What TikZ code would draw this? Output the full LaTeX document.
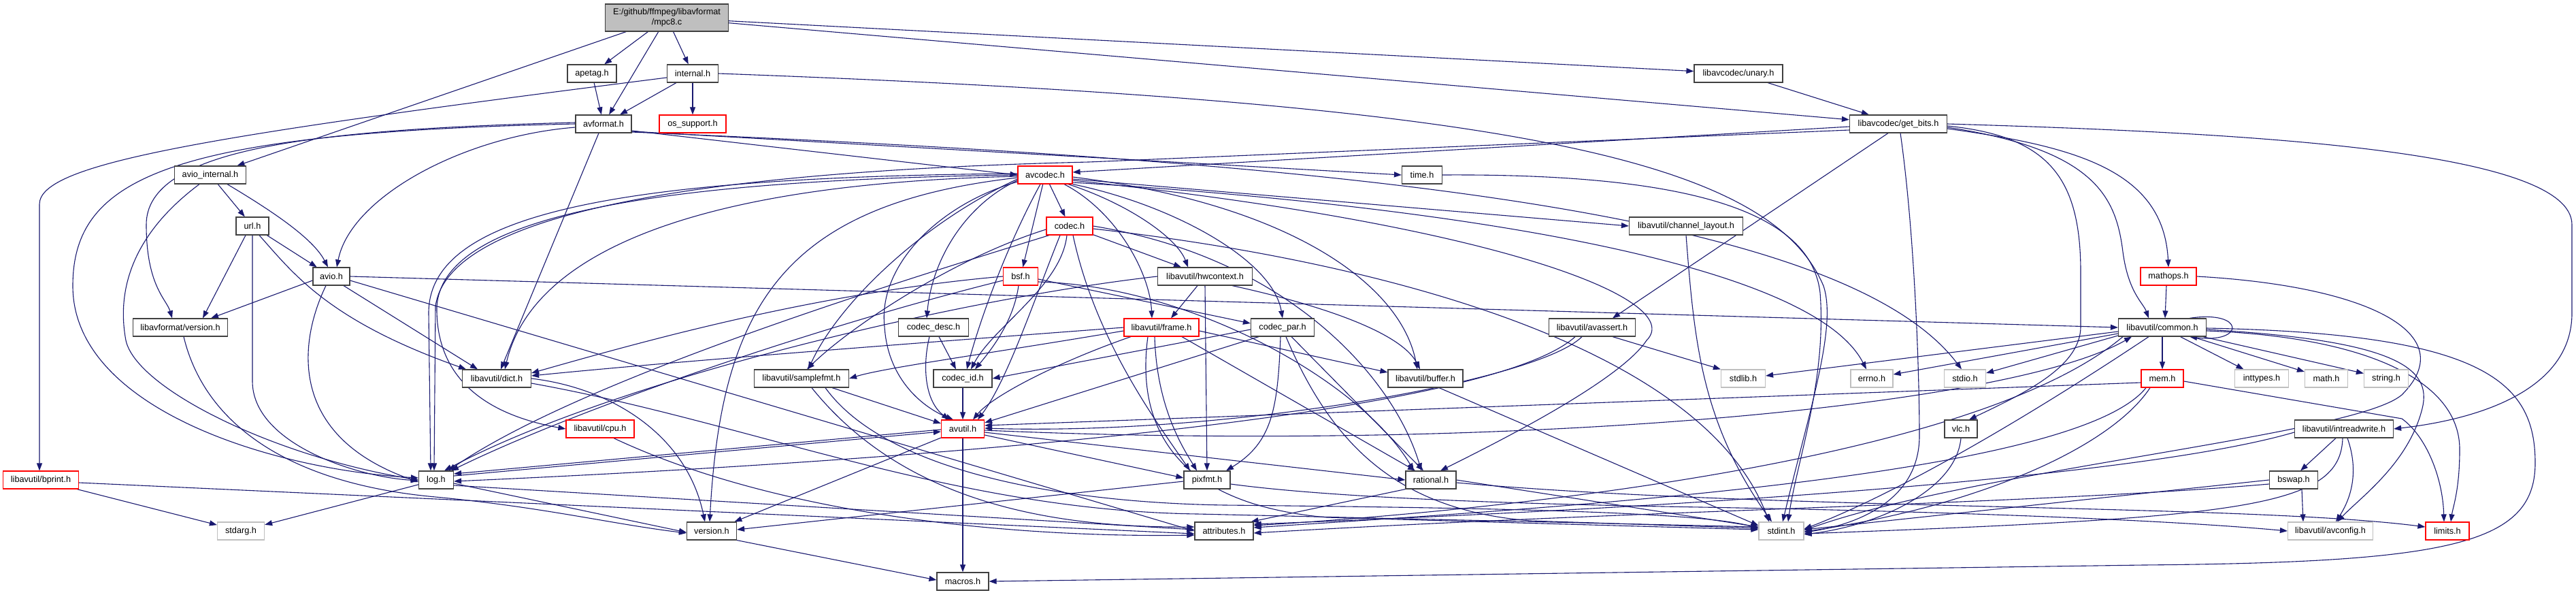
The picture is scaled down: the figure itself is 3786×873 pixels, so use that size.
\documentclass[tikz,border=0pt]{standalone}
\usepackage{fontspec}
\setmainfont{Liberation Sans}
\usetikzlibrary{arrows.meta}
\definecolor{edgec}{HTML}{191970}
\definecolor{grayb}{HTML}{BFBFBF}
\pgfdeclarelayer{back}
\pgfdeclarelayer{edges}
\pgfsetlayers{back,edges,main}
\begin{document}
\begin{tikzpicture}[x=1pt,y=-1pt,
 nd/.style={draw=black!75,line width=1.2pt,fill=white,minimum height=26pt,inner sep=0pt,font=\fontsize{12.7}{15}\selectfont},
 rd/.style={nd,draw=red},
 gy/.style={nd,draw=grayb},
 edg/.style={draw=edgec,line width=1.1pt,-{Triangle[length=11pt,width=8pt]}}]
\begin{pgfonlayer}{back}
\fill[white] (0,0) rectangle (3786,873);
\end{pgfonlayer}
\useasboundingbox (0,0) rectangle (3786,873);
% nodes
\node[nd,fill=grayb,minimum width=181pt,minimum height=40pt,align=center] (mpc) at (980,26) {E:/github/ffmpeg/libavformat\\/mpc8.c};
\node[nd,minimum width=72pt] (apetag) at (870,108) {apetag.h};
\node[nd,minimum width=75pt] (internal) at (1018,108) {internal.h};
\node[nd,minimum width=130pt] (unary) at (2555,108) {libavcodec/unary.h};
\node[nd,minimum width=82pt] (avformat) at (887,182) {avformat.h};
\node[rd,minimum width=98pt] (ossupport) at (1018,182) {os\_support.h};
\node[nd,minimum width=143pt] (getbits) at (2790,182) {libavcodec/get\_bits.h};
\node[nd,minimum width=105pt] (aviointernal) at (309,257) {avio\_internal.h};
\node[rd,minimum width=80pt] (avcodec) at (1536,257) {avcodec.h};
\node[nd,minimum width=59pt] (timeh) at (2090,257) {time.h};
\node[nd,minimum width=48pt] (url) at (371,332) {url.h};
\node[rd,minimum width=68pt] (codec) at (1572,332) {codec.h};
\node[nd,minimum width=167pt] (chlayout) at (2478,332) {libavutil/channel\_layout.h};
\node[nd,minimum width=54pt] (avio) at (487,406) {avio.h};
\node[rd,minimum width=51pt] (bsf) at (1500,406) {bsf.h};
\node[nd,minimum width=139pt] (hwcontext) at (1771,406) {libavutil/hwcontext.h};
\node[rd,minimum width=82pt] (mathops) at (3187,406) {mathops.h};
\node[nd,minimum width=139pt] (lavfversion) at (265,481) {libavformat/version.h};
\node[nd,minimum width=103pt] (codecdesc) at (1372,481) {codec\_desc.h};
\node[rd,minimum width=110pt] (frame) at (1707,481) {libavutil/frame.h};
\node[nd,minimum width=93pt] (codecpar) at (1885,481) {codec\_par.h};
\node[nd,minimum width=127pt] (avassert) at (2340,481) {libavutil/avassert.h};
\node[nd,minimum width=129pt] (common) at (3178,481) {libavutil/common.h};
\node[nd,minimum width=101pt] (dict) at (730,556) {libavutil/dict.h};
\node[nd,minimum width=139pt] (samplefmt) at (1178,556) {libavutil/samplefmt.h};
\node[nd,minimum width=86pt] (codecid) at (1415,556) {codec\_id.h};
\node[nd,minimum width=110pt] (buffer) at (2095,556) {libavutil/buffer.h};
\node[gy,minimum width=65pt] (stdlib) at (2562,556) {stdlib.h};
\node[gy,minimum width=62pt] (errno) at (2751,556) {errno.h};
\node[gy,minimum width=61pt] (stdio) at (2888,556) {stdio.h};
\node[rd,minimum width=62pt] (mem) at (3178,556) {mem.h};
\node[gy,minimum width=79pt] (inttypes) at (3324,556) {inttypes.h};
\node[gy,minimum width=63pt] (math) at (3419,556) {math.h};
\node[gy,minimum width=65pt] (string) at (3507,556) {string.h};
\node[rd,minimum width=100pt] (cpu) at (882,630) {libavutil/cpu.h};
\node[rd,minimum width=63pt] (avutil) at (1415,630) {avutil.h};
\node[nd,minimum width=48pt] (vlc) at (2882,630) {vlc.h};
\node[nd,minimum width=145pt] (intreadwrite) at (3445,630) {libavutil/intreadwrite.h};
\node[rd,minimum width=111pt] (bprint) at (60,705) {libavutil/bprint.h};
\node[nd,minimum width=51pt] (log) at (641,705) {log.h};
\node[nd,minimum width=68pt] (pixfmt) at (1774,705) {pixfmt.h};
\node[nd,minimum width=74pt] (rational) at (2103,705) {rational.h};
\node[nd,minimum width=71pt] (bswap) at (3371,705) {bswap.h};
\node[gy,minimum width=69pt] (stdarg) at (354,780) {stdarg.h};
\node[nd,minimum width=73pt] (version) at (1046,780) {version.h};
\node[nd,minimum width=86pt] (attributes) at (1799,780) {attributes.h};
\node[gy,minimum width=66pt] (stdint) at (2618,780) {stdint.h};
\node[gy,minimum width=125pt] (avconfig) at (3425,780) {libavutil/avconfig.h};
\node[rd,minimum width=64pt] (limits) at (3597,780) {limits.h};
\node[nd,minimum width=76pt] (macros) at (1415,854) {macros.h};
% edges
\begin{pgfonlayer}{edges}
% mpc8.c
\draw[edg] (mpc) -- (aviointernal);
\draw[edg] (mpc) -- (apetag);
\draw[edg] (mpc) -- (avformat);
\draw[edg] (mpc) -- (internal);
\draw[edg] (mpc) -- (unary);
\draw[edg] (mpc) -- (getbits);
\draw[edg] (apetag) -- (avformat);
\draw[edg] (internal) -- (avformat);
\draw[edg] (internal) -- (ossupport);
\draw[edg] ([yshift=-6pt]internal.west) .. controls (300,200) and (58,240) .. (58,300) -- ([xshift=-2pt]bprint.north);
\draw[edg] (internal.east) .. controls (2200,150) and (2600,230) .. (2680,420) .. controls (2700,480) and (2660,600) .. ([xshift=2pt]stdint.north);
\draw[edg] (unary) -- (getbits);
% avformat.h
\draw[edg] ([yshift=-10pt]avformat.east) -- (avcodec.west);
\draw[edg] ([yshift=-11pt]avformat.east) -- (timeh.west);
\draw[edg] ([yshift=-12pt]avformat.east) .. controls (1900,235) and (2700,300) .. ([xshift=-5pt]stdio.north);
\draw[edg] ([yshift=-5pt]avformat.west) .. controls (680,200) and (515,290) .. ([xshift=8pt]avio.north);
\draw[edg] ([yshift=2pt]avformat.west) .. controls (450,190) and (215,220) .. (215,330) .. controls (215,420) and (245,440) .. ([xshift=-12pt]lavfversion.north);
\draw[edg] (avformat.west) .. controls (250,195) and (107,260) .. (107,420) .. controls (107,600) and (400,690) .. ([yshift=3pt]log.west);
\draw[edg] ([xshift=-7pt]avformat.south) -- ([xshift=6pt]dict.north);
% avio_internal.h
\draw[edg] (aviointernal) -- (url);
\draw[edg] ([xshift=25pt]aviointernal.south) .. controls (400,310) and (460,350) .. ([xshift=-5pt]avio.north);
\draw[edg] ([xshift=-16pt]aviointernal.south) .. controls (200,340) and (170,420) .. (185,500) .. controls (200,570) and (400,670) .. (log.west);
% url.h
\draw[edg] (url) -- (avio);
\draw[edg] ([xshift=-10pt]url.south) -- ([xshift=33pt]lavfversion.north);
\draw[edg] (url.south) -- (371,560) .. controls (371,650) and (520,700) .. ([yshift=-1pt]log.west);
\draw[edg] ([xshift=10pt]url.south) .. controls (430,400) and (480,470) .. ([xshift=-45pt]dict.north);
% avio.h
\draw[edg] (avio.east) -- (common.west);
\draw[edg] ([yshift=-6pt]avio.west) -- ([xshift=45pt]lavfversion.north);
\draw[edg] ([xshift=-8pt]avio.south) .. controls (440,500) and (420,640) .. ([yshift=-3pt]log.west);
\draw[edg] ([xshift=18pt]avio.south) -- ([xshift=-28pt]dict.north);
\draw[edg] ([yshift=-6pt]avio.east) -- (attributes.west);
% libavformat/version.h
\draw[edg] ([xshift=5pt]lavfversion.south) .. controls (300,620) and (420,710) .. (640,730) .. controls (800,745) and (900,770) .. ([yshift=-3pt]version.west);
% bprint.h
\draw[edg] (bprint) -- (stdarg);
\draw[edg] ([yshift=-4pt]bprint.east) -- ([yshift=-4pt]attributes.west);
% log.h
\draw[edg] (log) -- (stdarg);
\draw[edg] ([yshift=-5pt]log.east) -- ([yshift=-2pt]version.west);
\draw[edg] ([yshift=6pt]log.east) -- ([yshift=-4pt]avutil.west);
\draw[edg] ([yshift=-1pt]avutil.west) -- ([yshift=9pt]log.east);
\draw[edg] ([yshift=-8pt]log.east) -- ([yshift=2pt]attributes.west);
% dict.h
\draw[edg] (dict.east) .. controls (900,570) and (1010,640) .. ([xshift=-10pt]version.north);
\draw[edg] ([yshift=-7pt]dict.east) .. controls (1100,620) and (1400,750) .. (1760,755) -- ([yshift=6pt]stdint.west);
% cpu.h
\draw[edg] ([xshift=20pt]cpu.south) .. controls (1150,760) and (1500,790) .. ([yshift=-6pt]attributes.west);
% avutil.h
\draw[edg] (avutil) -- (macros);
\draw[edg] (avutil) -- (version);
\draw[edg] ([yshift=-5pt]avutil.east) -- (rational.west);
\draw[edg] ([yshift=-9pt]avutil.east) -- ([yshift=3pt]pixfmt.west);
\draw[edg] ([yshift=-2pt]avutil.east) .. controls (2200,665) and (2950,600) .. ([xshift=-45pt]common.south);
% codec_id / codec_desc / codec_par
\draw[edg] (codecid) -- (avutil);
\draw[edg] ([xshift=8pt]codecdesc.south) -- ([xshift=-10pt]codecid.north);
\draw[edg] ([xshift=-6pt]codecdesc.south) .. controls (1355,540) and (1360,590) .. ([xshift=-20pt]avutil.north);
\draw[edg] ([yshift=-3pt]codecpar.west) -- (codecid.east);
\draw[edg] ([xshift=-35pt]codecpar.south) -- ([yshift=9pt]avutil.east);
\draw[edg] ([xshift=-3pt]codecpar.south) .. controls (1878,600) and (1870,650) .. ([xshift=28pt]pixfmt.north);
\draw[edg] ([xshift=13pt]codecpar.south) -- ([xshift=-11pt]rational.north);
\draw[edg] ([xshift=5pt]codecpar.south) .. controls (1960,660) and (2060,750) .. (2250,765) -- ([yshift=4pt]stdint.west);
% frame.h
\draw[edg] ([xshift=-45pt]frame.south) .. controls (1560,530) and (1460,580) .. ([xshift=15pt]avutil.north);
\draw[edg] (frame.west) .. controls (1400,500) and (1000,530) .. ([yshift=4pt]dict.east);
\draw[edg] ([yshift=-5pt]frame.west) .. controls (1450,520) and (1300,540) .. (samplefmt.east);
\draw[edg] ([xshift=-10pt]frame.south) .. controls (1700,600) and (1740,660) .. ([xshift=-15pt]pixfmt.north);
\draw[edg] ([yshift=-5pt]frame.east) -- ([yshift=9pt]buffer.west);
\draw[edg] ([xshift=30pt]frame.south) -- ([xshift=-23pt]rational.north);
\draw[edg] ([xshift=-20pt]frame.south) .. controls (1670,620) and (1720,740) .. (1950,760) -- ([yshift=2pt]stdint.west);
% hwcontext.h
\draw[edg] ([xshift=-11pt]hwcontext.south) -- ([xshift=14pt]frame.north);
\draw[edg] (hwcontext.south) -- (pixfmt.north);
\draw[edg] ([xshift=40pt]hwcontext.south) .. controls (1950,450) and (2060,490) .. ([xshift=-8pt]buffer.north);
\draw[edg] (hwcontext.west) .. controls (1400,440) and (900,560) .. ([xshift=12pt]log.north);
% codec.h
\draw[edg] (codec) -- ([xshift=-35pt]hwcontext.north);
\draw[edg] ([xshift=-4pt]codec.south) .. controls (1560,420) and (1460,480) .. ([xshift=12pt]codecid.north);
\draw[edg] ([xshift=-14pt]codec.south) .. controls (1520,440) and (1480,560) .. ([xshift=22pt]avutil.north);
\draw[edg] ([xshift=-30pt]codec.south) .. controls (1300,420) and (850,560) .. ([xshift=18pt]log.north);
\draw[edg] ([xshift=5pt]codec.south) .. controls (1610,500) and (1700,620) .. ([xshift=-25pt]pixfmt.north);
\draw[edg] (codec.east) .. controls (1900,380) and (2050,560) .. ([xshift=-14pt]rational.north);
\draw[edg] ([yshift=-5pt]codec.west) .. controls (1400,380) and (1250,480) .. ([xshift=8pt]samplefmt.north);
\draw[edg] ([yshift=-4pt]codec.east) .. controls (2000,380) and (2500,500) .. ([xshift=-18pt]stdint.north);
% bsf.h
\draw[edg] (bsf.west) .. controls (1200,430) and (950,500) .. ([yshift=8pt]dict.east);
\draw[edg] ([yshift=-6pt]bsf.west) .. controls (1200,480) and (850,600) .. ([xshift=22pt]log.north);
\draw[edg] ([xshift=-3pt]bsf.south) .. controls (1490,470) and (1460,510) .. ([xshift=18pt]codecid.north);
\draw[edg] ([yshift=-4pt]bsf.east) -- ([yshift=6pt]codecpar.west);
\draw[edg] ([yshift=-8pt]bsf.east) .. controls (1750,420) and (2000,560) .. ([xshift=-25pt]rational.north);
% avcodec.h
\draw[edg] (avcodec) -- (bsf);
\draw[edg] (avcodec) -- (codec);
\draw[edg] ([yshift=-6pt]avcodec.east) -- (chlayout.west);
\draw[edg] ([yshift=-11pt]avcodec.east) .. controls (2100,300) and (2660,380) .. ([xshift=-8pt]errno.north);
\draw[edg] ([yshift=-8pt]avcodec.east) .. controls (2200,330) and (2480,440) .. (2420,500) .. controls (2380,560) and (2200,650) .. ([xshift=14pt]rational.north);
\draw[edg] ([yshift=-3pt]avcodec.east) .. controls (1900,300) and (2060,420) .. ([xshift=-12pt]buffer.north);
\draw[edg] (avcodec.south east) .. controls (1720,300) and (1870,380) .. (codecpar.north);
\draw[edg] ([xshift=34pt]avcodec.south) .. controls (1660,300) and (1730,350) .. ([xshift=-25pt]hwcontext.north);
\draw[edg] ([xshift=28pt]avcodec.south) .. controls (1640,310) and (1690,400) .. ([xshift=-14pt]frame.north);
\draw[edg] ([xshift=-7pt]avcodec.south) .. controls (1480,360) and (1440,470) .. ([xshift=6pt]codecid.north);
\draw[edg] ([yshift=-8pt]avcodec.west) .. controls (1420,300) and (1370,380) .. ([xshift=-10pt]codecdesc.north);
\draw[edg] ([yshift=-10pt]avcodec.west) .. controls (1380,300) and (1290,390) .. (1300,480) .. controls (1305,560) and (1360,600) .. ([xshift=-14pt]avutil.north);
\draw[edg] ([yshift=-6pt]avcodec.west) .. controls (1350,330) and (1230,450) .. ([xshift=10pt]samplefmt.north);
\draw[edg] ([yshift=-4pt]avcodec.west) .. controls (1150,300) and (1060,450) .. ([xshift=-3pt]version.north);
\draw[edg] ([yshift=-2pt]avcodec.west) .. controls (1000,270) and (780,380) .. ([xshift=12pt]dict.north);
\draw[edg] (avcodec.west) .. controls (900,265) and (650,330) .. (642,450) .. controls (640,560) and (720,610) .. (cpu.west);
\draw[edg] ([yshift=2pt]avcodec.west) .. controls (880,260) and (630,320) .. (630,460) -- ([xshift=-8pt]log.north);
% get_bits.h
\draw[edg] ([yshift=-4pt]getbits.west) -- ([yshift=4pt]avcodec.east);
\draw[edg] ([yshift=-9pt]getbits.west) -- (1600,238) .. controls (1100,250) and (660,300) .. (640,450) -- ([xshift=-3pt]log.north);
\draw[edg] ([xshift=-15pt]getbits.south) -- ([xshift=30pt]avassert.north);
\draw[edg] ([xshift=3pt]getbits.south) .. controls (2815,350) and (2821,560) .. (2821,640) .. controls (2821,740) and (2720,772) .. ([yshift=-2pt]stdint.east);
\draw[edg] ([yshift=-3pt]getbits.east) .. controls (3010,200) and (3058,260) .. (3058,400) -- (3058,480) .. controls (3058,540) and (2970,580) .. ([xshift=12pt]vlc.north);
\draw[edg] ([yshift=-5pt]getbits.east) .. controls (3080,220) and (3110,290) .. (3120,370) .. controls (3128,430) and (3150,445) .. ([xshift=-20pt]common.north);
\draw[edg] ([yshift=-7pt]getbits.east) .. controls (3050,215) and (3180,250) .. (mathops.north);
\draw[edg] (getbits.east) .. controls (3300,195) and (3780,220) .. (3780,330) -- (3780,460) .. controls (3780,570) and (3650,615) .. (intreadwrite.east);
% mathops.h
\draw[edg] ([xshift=-3pt]mathops.south) -- ([xshift=4pt]common.north);
\draw[edg] (mathops.east) .. controls (3480,420) and (3620,490) .. (3530,580) .. controls (3460,640) and (2900,690) .. ([yshift=1pt]stdint.east);
% mem.h
\draw[edg] ([yshift=-6pt]mem.west) -- ([yshift=5pt]avutil.east);
\draw[edg] ([yshift=-4pt]mem.east) -- (3530,615) .. controls (3565,640) and (3590,700) .. ([xshift=-5pt]limits.north);
\draw[edg] ([xshift=-18pt]mem.south) .. controls (3100,660) and (2900,745) .. ([yshift=-1pt]stdint.east);
\draw[edg] ([xshift=-24pt]mem.south) .. controls (3050,700) and (2300,745) .. ([yshift=5pt]attributes.east);
% common.h
\draw[edg] (common) -- (mem);
\draw[edg] (common) -- (inttypes);
\draw[edg] (common) -- (math);
\draw[edg] (common) -- (string);
\draw[edg] ([yshift=-6pt]common.west) -- ([yshift=4pt]stdlib.east);
\draw[edg] ([yshift=-9pt]common.west) -- ([yshift=6pt]errno.east);
\draw[edg] ([yshift=-12pt]common.west) -- ([yshift=8pt]stdio.east);
\draw[edg] ([xshift=-20pt]common.south) .. controls (3000,600) and (2800,720) .. ([yshift=3pt]stdint.east);
\draw[edg] ([xshift=-58pt]common.south) .. controls (2900,680) and (2200,750) .. ([yshift=8pt]attributes.east);
\draw[edg] ([yshift=-5pt]common.east) .. controls (3480,495) and (3615,560) .. (3615,660) .. controls (3615,720) and (3605,745) .. ([xshift=5pt]limits.north);
\draw[edg] ([yshift=-3pt]common.east) .. controls (3520,500) and (3575,540) .. (3560,600) .. controls (3540,680) and (3470,730) .. ([xshift=10pt]avconfig.north);
\draw[edg] ([yshift=-1pt]common.east) .. controls (3650,490) and (3726,560) .. (3726,680) .. controls (3726,800) and (3600,826) .. (3150,830) -- (macros.east);
\draw[edg] ([xshift=40pt]common.north) .. controls (3300,455) and (3300,505) .. ([xshift=40pt]common.south);
% intreadwrite.h
\draw[edg] ([xshift=-12pt]intreadwrite.south) -- ([xshift=10pt]bswap.north);
\draw[edg] ([xshift=5pt]intreadwrite.south) .. controls (3470,700) and (3450,740) .. ([xshift=8pt]avconfig.north);
\draw[edg] ([xshift=-2pt]intreadwrite.south) .. controls (3440,745) and (3300,760) .. ([yshift=-4pt]stdint.east);
\draw[edg] ([yshift=-5pt]intreadwrite.west) .. controls (3150,700) and (2500,745) .. ([yshift=10pt]attributes.east);
% bswap.h
\draw[edg] ([xshift=12pt]bswap.south) -- ([xshift=-40pt]avconfig.north);
\draw[edg] (bswap.west) -- ([yshift=2pt]stdint.east);
\draw[edg] ([yshift=-6pt]bswap.west) .. controls (3000,740) and (2400,750) .. ([yshift=-3pt]attributes.east);
% rational.h
\draw[edg] (rational.east) -- ([yshift=6pt]stdint.west);
\draw[edg] ([yshift=-4pt]rational.east) .. controls (2600,750) and (3300,740) .. ([yshift=6pt]limits.west);
\draw[edg] (rational.south west) -- ([xshift=-4pt]attributes.north east);
% pixfmt.h
\draw[edg] ([yshift=-2pt]pixfmt.west) -- ([yshift=2pt]version.east);
\draw[edg] ([yshift=-6pt]pixfmt.east) .. controls (1950,730) and (2200,740) .. (2500,745) .. controls (2900,752) and (3200,765) .. (avconfig.west);
% samplefmt.h
\draw[edg] ([xshift=45pt]samplefmt.south) -- ([yshift=8pt]avutil.west);
\draw[edg] ([xshift=15pt]samplefmt.south) .. controls (1330,740) and (1550,775) .. ([yshift=6pt]attributes.west);
\draw[edg] ([xshift=35pt]samplefmt.south) .. controls (1300,690) and (1550,738) .. (1800,742) .. controls (2200,746) and (2500,752) .. ([yshift=4pt]stdint.west);
% avassert.h
\draw[edg] ([xshift=30pt]avassert.south) -- (stdlib.north west);
\draw[edg] ([xshift=-15pt]avassert.south) .. controls (2260,560) and (1800,640) .. ([yshift=1pt]avutil.east);
\draw[edg] ([xshift=-25pt]avassert.south) .. controls (2200,600) and (1500,670) .. ([yshift=-2pt]log.east);
% small leaves
\draw[edg] (vlc.south) .. controls (2875,720) and (2760,772) .. ([yshift=-5pt]stdint.east);
\draw[edg] (timeh.east) .. controls (2450,255) and (2660,300) .. (2675,430) .. controls (2685,560) and (2640,680) .. ([xshift=10pt]stdint.north);
\draw[edg] (chlayout.south) .. controls (2490,500) and (2500,620) .. ([xshift=-14pt]stdint.north);
\draw[edg] ([xshift=20pt]buffer.south) -- ([yshift=8pt]stdint.west);
\draw[edg] (version.south east) -- ([yshift=2pt]macros.west);
\end{pgfonlayer}
\end{tikzpicture}
\end{document}
